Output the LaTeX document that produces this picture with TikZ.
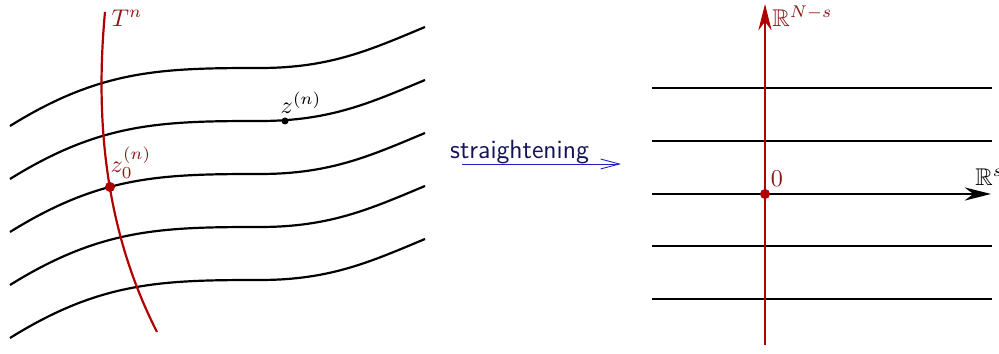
\documentclass[tikz,border=0pt]{standalone}
\usepackage{amsmath}
\usepackage{amssymb}
\usetikzlibrary{arrows.meta,calc,positioning}
\definecolor{LeafRed}{RGB}{176,0,0}
\definecolor{LabelRed}{RGB}{140,20,20}
\definecolor{StraightBlue}{RGB}{30,30,200}
\definecolor{StraightText}{RGB}{20,20,90}

\begin{document}
\begin{tikzpicture}[x=0.016cm, y=-0.016cm,
  leaf/.style={black, line width=1pt},
  transversal/.style={LeafRed, line width=1pt},
  redlabel/.style={LabelRed, inner sep=0pt, scale=1.1},
  blacklabel/.style={black, inner sep=0pt, scale=1.1}]
  \useasboundingbox (0,0) rectangle (999,354);

  % Leaves of the foliation (left picture)
  \foreach \k in {0,...,4}
    \draw[leaf, shift={(0,53*\k)}] (10,126) .. controls (100,70) and (160,68) .. (260,68)
      .. controls (330,68) and (370,50) .. (425,27);

  % Transversal T^n
  \draw[transversal] (105,12) .. controls (95,120) and (105,230) .. (157,332);
  \node[redlabel] (tn) at (127,18) {$T^n$};

  % Marked points
  \coordinate (z0) at (110,187);
  \coordinate (z) at (285,121);
  \fill[LeafRed] (z0) circle (5);
  \fill[black] (z) circle (3.5);
  \node[redlabel] (z0lbl) at (131,163) {$z_0^{(n)}$};
  \node[blacklabel] (zlbl) at (301,103) {$z^{(n)}$};

  % Straightening map
  \coordinate (sfrom) at (462,164);
  \coordinate (sto) at (621,164);
  \draw[StraightBlue, -{Straight Barb[length=8.5pt, width=4.5pt]}] (sfrom) -- (sto)
    node[midway, above=0pt, inner sep=0pt, xshift=-10, text=StraightText, font=\sffamily\large] (slbl) {straightening};

  % Straight leaves (right picture)
  \foreach \y in {88,141,246,299}
    \draw[leaf] (652,\y) -- (992,\y);
  \coordinate (hstart) at (652,194);
  \coordinate (hend) at (991,194);
  \draw[leaf, -{Stealth[length=12pt, width=6pt]}] (hstart) -- (hend);

  % Vertical axis
  \coordinate (vstart) at (765,345);
  \coordinate (vend) at (765,4);
  \draw[transversal, -{Stealth[length=12pt, width=6pt]}] (vstart) -- (vend);
  \coordinate (orig) at (765,194);
  \fill[LeafRed] (orig) circle (5);
  \node[redlabel] (zero) at (777,179) {$0$};
  \node[redlabel, anchor=west] (rns) at (772,16) {$\mathbb{R}^{N-s}$};
  \node[blacklabel, anchor=west] (rs) at (975,177) {$\mathbb{R}^s$};
\end{tikzpicture}
\end{document}
